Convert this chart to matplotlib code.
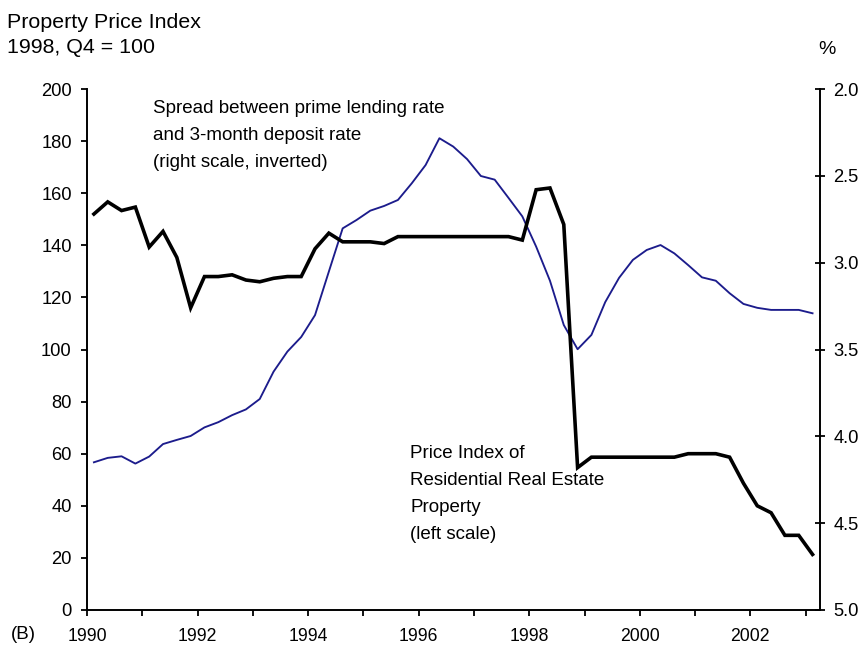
import matplotlib
matplotlib.use("Agg")
import matplotlib.pyplot as plt
import numpy as np

plt.rcParams['font.family'] = ['Liberation Sans', 'DejaVu Sans']

# Quarterly observations, 1990 Q1 .. 2003 Q1 (plotted at mid-quarter)
quarters = [1990.125 + 0.25 * k for k in range(53)]

# Price Index of Residential Real Estate Property (left scale, 1998 Q4 = 100)
price_index = [56.7, 58.4, 59.0, 56.2, 58.9, 63.7, 65.3, 66.8, 70.1, 72.1,
               74.8, 77.0, 81.0, 91.5, 99.2, 104.8, 113.2, 129.9, 146.5, 149.7,
               153.3, 155.1, 157.4, 163.8, 170.8, 181.1, 177.9, 173.1, 166.6, 165.2,
               158.2, 151.1, 139.5, 126.4, 109.4, 100.1, 105.6, 118.2, 127.5, 134.4,
               138.2, 140.1, 136.9, 132.4, 127.7, 126.4, 121.6, 117.5, 116.0, 115.2,
               115.2, 115.2, 113.9]

# Spread between prime lending rate and 3-month deposit rate, % (right scale, inverted)
spread = [2.72, 2.65, 2.70, 2.68, 2.91, 2.82, 2.97, 3.26, 3.08, 3.08,
          3.07, 3.10, 3.11, 3.09, 3.08, 3.08, 2.92, 2.83, 2.88, 2.88,
          2.88, 2.89, 2.85, 2.85, 2.85, 2.85, 2.85, 2.85, 2.85, 2.85,
          2.85, 2.87, 2.58, 2.57, 2.78, 4.18, 4.12, 4.12, 4.12, 4.12,
          4.12, 4.12, 4.12, 4.10, 4.10, 4.10, 4.12, 4.27, 4.40, 4.44,
          4.57, 4.57, 4.68]

left_ticks = [0, 20, 40, 60, 80, 100, 120, 140, 160, 180, 200]
right_ticks = [2.0, 2.5, 3.0, 3.5, 4.0, 4.5, 5.0]
year_ticks = list(range(1990, 2004))
year_labels = [str(y) if y % 2 == 0 else '' for y in year_ticks]

W, H = 864, 647
fig = plt.figure(figsize=(W / 100, H / 100), dpi=100)
ax = fig.add_axes([87 / W, 1 - 610 / H, (820 - 87) / W, (610 - 89) / H])
ax2 = ax.twinx()

ax.plot(quarters, price_index, color='#1c1c8c', lw=1.35, zorder=2)
ax2.plot(quarters, spread, color='black', lw=2.6, solid_joinstyle='miter', zorder=3)

ax.set_xlim(1990, 2003.26)
ax.set_ylim(0, 200)
ax2.set_ylim(5.0, 2.0)

ax.set_yticks(left_ticks)
ax.set_yticklabels([str(v) for v in left_ticks])
ax2.set_yticks(right_ticks)
ax2.set_yticklabels([f"{v:.1f}" for v in right_ticks])
ax.set_xticks(year_ticks)
ax.set_xticklabels(year_labels)

for a in (ax, ax2):
    a.spines['top'].set_visible(False)
    for s in a.spines.values():
        s.set_linewidth(1.4)
ax.spines['right'].set_visible(False)
ax2.spines['left'].set_visible(False)
ax2.spines['bottom'].set_visible(False)

ax.tick_params(axis='y', direction='out', length=4, width=1.3, pad=7, labelsize=13.2)
ax.tick_params(axis='x', direction='out', length=4.3, width=1.3, pad=8.5, labelsize=12.7)
ax2.tick_params(axis='y', direction='inout', length=7, width=1.3, pad=6, labelsize=13.2)

def ftext(x, y, s, **kw):
    fig.text(x / W, 1 - y / H, s, ha='left', va='baseline', **kw)

ftext(7, 28, "Property Price Index", fontsize=15.4)
ftext(7, 53, "1998, Q4 = 100", fontsize=15.4)
fig.text(827 / W, 1 - 54 / H, "%", ha='center', va='baseline', fontsize=14)
ftext(11, 639, "(B)", fontsize=13.5)

for i, line in enumerate(["Spread between prime lending rate",
                          "and 3-month deposit rate",
                          "(right scale, inverted)"]):
    ftext(153, 113 + 27 * i, line, fontsize=13.5)

for i, line in enumerate(["Price Index of",
                          "Residential Real Estate",
                          "Property",
                          "(left scale)"]):
    ftext(410, 458 + 27 * i, line, fontsize=13.5)

fig.savefig("out.png", dpi=100)
